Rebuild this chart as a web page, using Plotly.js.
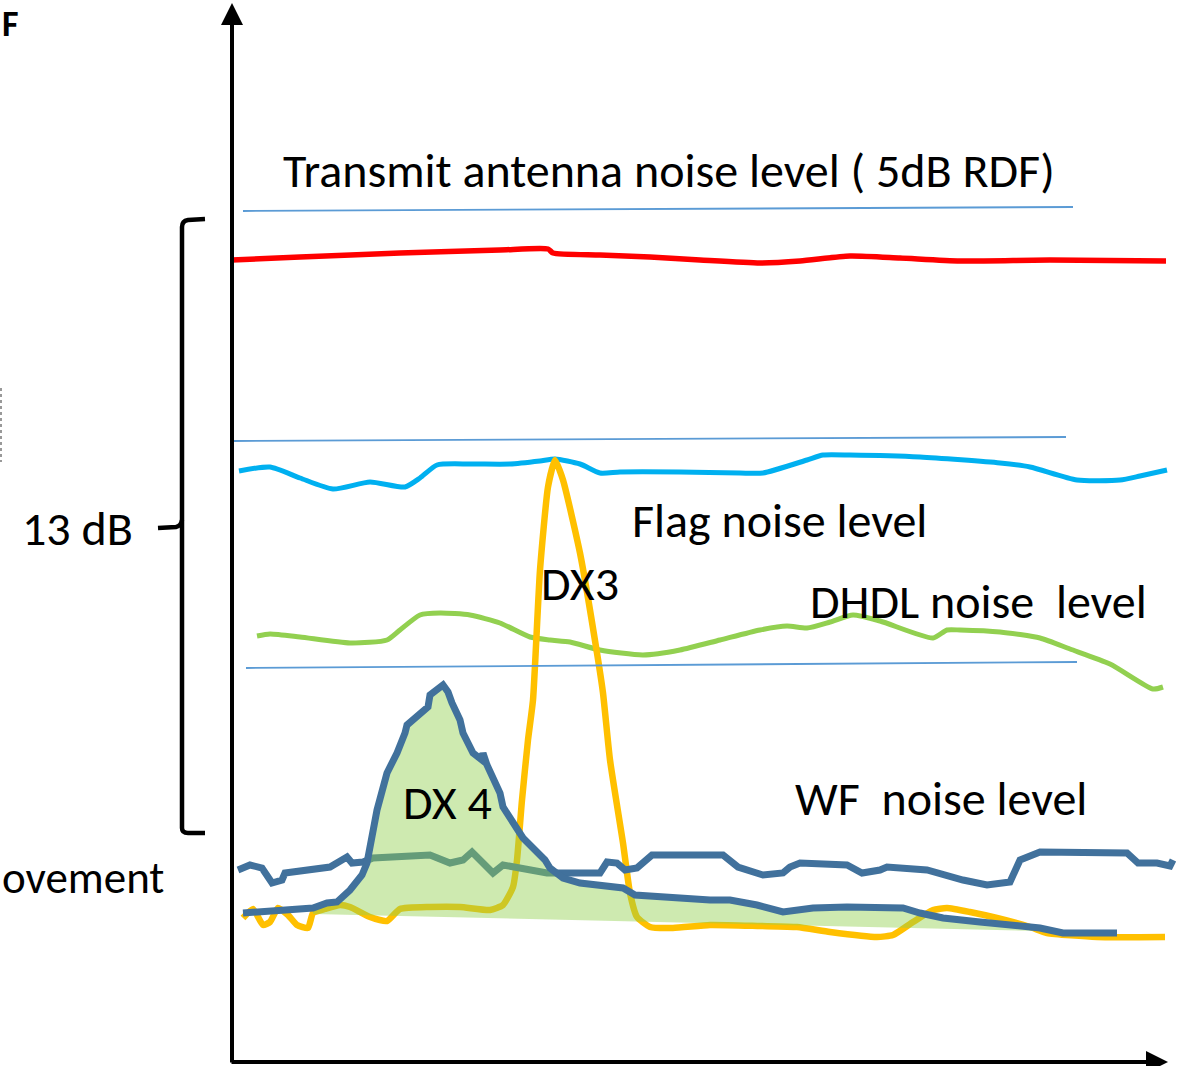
<!DOCTYPE html>
<html>
<head>
<meta charset="utf-8">
<script src="https://cdn.plot.ly/plotly-3.0.1.min.js"></script>
<style>html,body{margin:0;padding:0;background:#fff;}#chart{width:1178px;height:1066px;}</style>
</head>
<body>
<div id="chart"></div>
<script>
// ---- data (x = horizontal position, y = level, screen-down units) ----
const transmitX = [232,300,400,500,548,553,600,650,700,760,800,850,900,960,1050,1166];
const transmitY = [260,257,253,250,249,253,255,257,260,263,261,256,258,261,260,261];

const flagX = [239,270,300,333,370,405,420,437,470,510,540,555,580,600,620,680,740,763,807,823,850,920,1000,1030,1077,1120,1140,1167];
const flagY = [471,467,478,489,482,487,478,465,464,464,461,459,464,473,472,472,473,473,460,455,455,457,463,467,480,480,476,470];

const dhdlX = [257,270,300,350,387,400,420,440,470,500,530,550,570,600,643,680,720,760,787,807,830,853,880,933,947,960,1000,1040,1070,1110,1153,1163];
const dhdlY = [636,634,637,643,640,630,615,613,615,623,637,640,642,650,655,650,640,630,626,628,622,615,621,638,630,630,632,638,649,664,689,687];

const dx3X = [243,253,263,270,278,288,297,308,313,325,340,350,370,387,400,430,460,490,503,513,517,522,528,533,540,548,555,563,580,597,603,610,623,630,637,650,673,710,760,797,830,877,893,913,933,947,970,997,1030,1047,1097,1165];
const dx3Y = [918,909,925,922,908,915,925,928,913,909,905,907,917,921,909,907,907,910,905,887,860,800,740,700,570,487,460,480,553,653,693,760,843,893,917,927,928,925,926,927,932,937,935,922,910,908,912,918,927,933,937,937];

const wfX = [238,250,262,272,282,285,330,340,347,352,363,373,430,450,463,472,493,503,513,547,600,607,617,625,637,652,710,723,738,763,783,790,800,847,862,880,887,927,963,987,1010,1017,1020,1040,1127,1138,1157,1170,1173];
const wfY = [870,865,868,883,880,873,867,860,857,863,862,858,855,863,860,852,873,865,867,873,873,862,863,870,868,855,855,855,867,875,873,867,863,865,873,870,867,870,880,885,882,867,860,852,853,863,863,866,860];

const dx4X = [243,313,327,337,350,362,367,370,377,387,393,397,405,407,428,430,443,448,452,460,463,468,473,482,483,487,493,500,503,510,513,523,537,545,550,563,580,607,623,635,670,710,730,757,783,813,847,903,920,943,980,1013,1040,1063,1117];
const dx4Y = [913,908,903,902,890,875,863,847,810,773,763,753,733,725,707,695,685,692,703,720,733,742,753,760,753,765,780,793,807,818,823,838,852,860,868,878,883,887,888,895,898,900,900,905,912,908,907,908,913,918,922,925,928,933,933];
const dx4BaseX = [1040,313];
const dx4BaseY = [931,914];

const labels = [
  {text:"Transmit antenna noise level ( 5dB RDF)", x:281, y:170, size:48},
  {text:"13 dB", x:20, y:528, size:48},
  {text:"ovement", x:0, y:877, size:45},
  {text:"Flag noise level", x:630, y:520, size:48},
  {text:"DX3", x:539, y:583, size:48},
  {text:"DHDL noise&nbsp;&nbsp;level", x:808, y:601, size:48},
  {text:"DX 4", x:401, y:802, size:48},
  {text:"WF&nbsp;&nbsp;noise level", x:793, y:798, size:48}
];

// ---- traces ----
const fillX = [], fillY = [];
dx4X.forEach((v,i)=>{ if (v>=dx4BaseX[1] && v<=dx4BaseX[0]) { fillX.push(v); fillY.push(dx4Y[i]); } });
fillX.push(...dx4BaseX); fillY.push(...dx4BaseY);

const traces = [
  {x:transmitX, y:transmitY, mode:'lines', line:{color:'#FF0000', width:5.5, shape:'spline', smoothing:0.6}},
  {x:flagX, y:flagY, mode:'lines', line:{color:'#00B0F0', width:5, shape:'spline', smoothing:0.6}},
  {x:dhdlX, y:dhdlY, mode:'lines', line:{color:'#92D050', width:5, shape:'spline', smoothing:0.6}},
  {x:dx3X, y:dx3Y, mode:'lines', line:{color:'#FFC000', width:6.5, shape:'spline', smoothing:0.5}},
  {x:wfX, y:wfY, mode:'lines', line:{color:'#41719C', width:7}},
  {x:fillX, y:fillY, mode:'lines', fill:'toself', fillcolor:'rgba(146,208,80,0.45)', line:{width:0}},
  {x:dx4X, y:dx4Y, mode:'lines', line:{color:'#41719C', width:7}}
];

const annotations = labels.map(l=>({text:l.text, x:l.x, y:l.y, xref:'x', yref:'y', xanchor:'left', yanchor:'middle', showarrow:false,
  font:{family:'Carlito, Lato, "Open Sans", sans-serif', size:l.size, color:'#000'}}));
annotations.push({text:'<b>F</b>', x:0, y:24, xref:'x', yref:'y', xanchor:'left', yanchor:'middle', showarrow:false, font:{family:'Carlito, Lato, sans-serif', size:36, color:'#000'}});
// axis arrows
annotations.push({x:232, y:3, ax:232, ay:1064, xref:'x', yref:'y', axref:'x', ayref:'y', showarrow:true, arrowhead:2, arrowsize:1.1, arrowwidth:4, arrowcolor:'#000', text:''});
annotations.push({x:1168, y:1062, ax:230, ay:1062, xref:'x', yref:'y', axref:'x', ayref:'y', showarrow:true, arrowhead:2, arrowsize:1.1, arrowwidth:4, arrowcolor:'#000', text:''});

const shapes = [
  {type:'line', xref:'x', yref:'y', x0:243, y0:211, x1:1073, y1:207, line:{color:'#5B9BD5', width:1.8}},
  {type:'line', xref:'x', yref:'y', x0:233, y0:441, x1:1066, y1:437, line:{color:'#5B9BD5', width:1.8}},
  {type:'line', xref:'x', yref:'y', x0:246, y0:668, x1:1077, y1:662, line:{color:'#5B9BD5', width:1.8}},
  {type:'path', xref:'x', yref:'y', path:'M 205 219 L 188 220 Q 182 221 182 227 L 182 828 Q 182 833 188 833 L 205 833', line:{color:'#000', width:4.5}},
  {type:'path', xref:'x', yref:'y', path:'M 158 528 L 176 527 Q 181 526 182 520', line:{color:'#000', width:4.5}},
  {type:'line', xref:'x', yref:'y', x0:1, y0:388, x1:1, y1:462, line:{color:'#999', width:2, dash:'dot'}}
];

const layout = {
  width:1178, height:1066,
  margin:{l:0, r:0, t:0, b:0},
  paper_bgcolor:'#fff', plot_bgcolor:'#fff',
  showlegend:false,
  xaxis:{range:[0,1178], visible:false, fixedrange:true},
  yaxis:{range:[1066,0], visible:false, fixedrange:true},
  annotations:annotations,
  shapes:shapes
};

Plotly.newPlot('chart', traces, layout, {staticPlot:true, displayModeBar:false});
</script>
</body>
</html>
